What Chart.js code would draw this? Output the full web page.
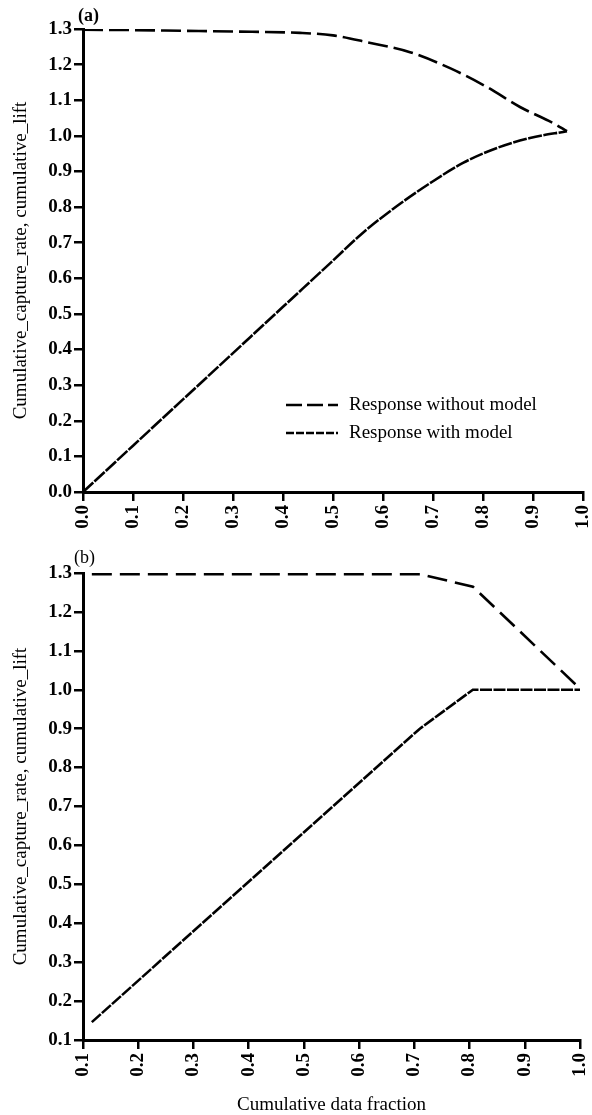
<!DOCTYPE html>
<html>
<head>
<meta charset="utf-8">
<script src="https://cdn.jsdelivr.net/npm/chart.js@4.4.0/dist/chart.umd.min.js"></script>
<style>
  html, body { margin: 0; padding: 0; background: #fff; }
  #wrap { position: relative; width: 592px; height: 1115px; }
  canvas { position: absolute; left: 0; }
  #chart-a { top: 0; }
  #chart-b { top: 545px; }
</style>
</head>
<body>
<div id="wrap">
  <canvas id="chart-a" width="592" height="545"></canvas>
  <canvas id="chart-b" width="592" height="570"></canvas>
</div>
<script>
// ---- data ----
const seriesLabels = ['Response without model', 'Response with model'];

// panel (a)
const xWithoutA = [0, 0.1, 0.2, 0.3, 0.434, 0.5, 0.568, 0.654, 0.734, 0.808, 0.874, 0.94, 0.968];
const yWithoutA = [1.298, 1.297, 1.295, 1.293, 1.289, 1.282, 1.263, 1.235, 1.19, 1.137, 1.081, 1.036, 1.013];
const xWithA = [0, 0.1, 0.2, 0.3, 0.4, 0.494, 0.56, 0.628, 0.694, 0.76, 0.828, 0.894, 0.968];
const yWithA = [0, 0.13, 0.26, 0.39, 0.52, 0.642, 0.728, 0.803, 0.867, 0.924, 0.966, 0.994, 1.013];

// panel (b)
const xWithoutB = [0.116, 0.71, 0.806, 1.0];
const yWithoutB = [1.297, 1.297, 1.265, 1.003];
const xWithB = [0.116, 0.71, 0.806, 1.0];
const yWithB = [0.146, 0.9, 1.0, 1.0];

// tick labels
const xTicksA = [0, 0.1, 0.2, 0.3, 0.4, 0.5, 0.6, 0.7, 0.8, 0.9, 1.0];
const yTicksA = [0, 0.1, 0.2, 0.3, 0.4, 0.5, 0.6, 0.7, 0.8, 0.9, 1.0, 1.1, 1.2, 1.3];
const xTicksB = [0.1, 0.2, 0.3, 0.4, 0.5, 0.6, 0.7, 0.8, 0.9, 1.0];
const yTicksB = [0.1, 0.2, 0.3, 0.4, 0.5, 0.6, 0.7, 0.8, 0.9, 1.0, 1.1, 1.2, 1.3];

const yTitle = 'Cumulative_capture_rate, cumulative_lift';
const xTitle = 'Cumulative data fraction';

// ---- helpers ----
const SERIF = "'Liberation Serif', 'DejaVu Serif', serif";
const toPoints = (xs, ys) => xs.map((x, i) => ({ x, y: ys[i] }));

const panelLabel = {
    id: 'panelLabel',
    afterDraw(chart, args, opts) {
        const ctx = chart.ctx;
        ctx.save();
        ctx.fillStyle = '#000';
        ctx.font = `${opts.weight} 18px ${SERIF}`;
        ctx.textBaseline = 'middle';
        ctx.fillText(opts.text, opts.x, opts.y);
        ctx.restore();
    }
};

const insideLegend = {
    id: 'insideLegend',
    afterDraw(chart, args, opts) {
        if (!opts.show) return;
        const ctx = chart.ctx;
        ctx.save();
        chart.data.datasets.forEach((ds, i) => {
            const y = opts.y + i * opts.gap;
            ctx.strokeStyle = '#000';
            ctx.lineWidth = 2.5;
            ctx.setLineDash(ds.legendDash);
            ctx.beginPath();
            ctx.moveTo(opts.x, y);
            ctx.lineTo(opts.x + opts.len, y);
            ctx.stroke();
            ctx.setLineDash([]);
            ctx.fillStyle = '#000';
            ctx.font = `19px ${SERIF}`;
            ctx.textBaseline = 'middle';
            ctx.fillText(ds.label, opts.x + opts.len + 11, y);
        });
        ctx.restore();
    }
};

const axisCommon = (ticks, min, max) => ({
    type: 'linear',
    min, max,
    afterBuildTicks: s => { s.ticks = ticks.map(v => ({ value: v })); },
    grid: { drawOnChartArea: false, drawTicks: true, tickLength: 9, color: '#000', lineWidth: 2.5 },
    border: { display: true, color: '#000', width: 3 },
    ticks: {
        color: '#000',
        font: { family: SERIF, size: 19, weight: 'bold' },
        callback: v => Number(v).toFixed(1)
    }
});

const makeChart = (canvasId, datasets, cfg) => {
    const xAxis = axisCommon(cfg.xTicks, cfg.xMin, 1.0);
    xAxis.ticks.minRotation = 90;
    xAxis.ticks.maxRotation = 90;
    xAxis.ticks.padding = 4;
    xAxis.afterFit = s => {
        s.height = cfg.xHeight;
        s.paddingLeft = 0;
        s.paddingRight = 0;
    };
    if (cfg.showXTitle) {
        xAxis.title = { display: true, text: xTitle, color: '#000',
            font: { family: SERIF, size: 19, lineHeight: 1 }, padding: { top: 0, bottom: 0 } };
    }
    const yAxis = axisCommon(cfg.yTicks, cfg.yMin, 1.3);
    yAxis.ticks.padding = 2;
    yAxis.afterFit = s => {
        s.width = 83;
        s.paddingTop = 0;
        s.paddingBottom = 0;
    };
    yAxis.title = { display: true, text: yTitle, color: '#000',
        font: { family: SERIF, size: 19, lineHeight: 1.2 }, padding: { top: 10, bottom: 0 } };

    return new Chart(document.getElementById(canvasId), {
        type: 'line',
        data: { datasets },
        options: {
            responsive: false,
            animation: false,
            layout: { padding: { top: cfg.top, right: cfg.right, left: 0, bottom: 0 } },
            scales: { x: xAxis, y: yAxis },
            elements: { point: { radius: 0 } },
            plugins: {
                legend: { display: false },
                tooltip: { enabled: false },
                panelLabel: cfg.panel,
                insideLegend: cfg.legend
            }
        },
        plugins: [panelLabel, insideLegend]
    });
};

const lineStyle = (label, points, dash, legendDash, smooth) => ({
    label,
    data: points,
    borderColor: '#000',
    borderWidth: 2.6,
    borderDash: dash,
    legendDash,
    borderCapStyle: 'butt',
    fill: false,
    tension: smooth ? 0.4 : 0,
    cubicInterpolationMode: smooth ? 'monotone' : 'default'
});

makeChart('chart-a', [
    lineStyle(seriesLabels[0], toPoints(xWithoutA, yWithoutA), [20, 6], [16, 5], true),
    lineStyle(seriesLabels[1], toPoints(xWithA, yWithA), [14, 1.5], [8, 2], true)
], {
    xTicks: xTicksA, yTicks: yTicksA, xMin: 0, yMin: 0,
    top: 29, right: 9, xHeight: 53, showXTitle: false,
    panel: { text: '(a)', x: 78, y: 16, weight: 'bold' },
    legend: { show: true, x: 286, y: 405, gap: 28, len: 52 }
});

makeChart('chart-b', [
    lineStyle(seriesLabels[0], toPoints(xWithoutB, yWithoutB), [20, 8], [16, 5], false),
    lineStyle(seriesLabels[1], toPoints(xWithB, yWithB), [12, 1.5], [8, 2], false)
], {
    xTicks: xTicksB, yTicks: yTicksB, xMin: 0.1, yMin: 0.1,
    top: 28, right: 12, xHeight: 75, showXTitle: true,
    panel: { text: '(b)', x: 74, y: 13, weight: 'normal' },
    legend: { show: false }
});
</script>
</body>
</html>
